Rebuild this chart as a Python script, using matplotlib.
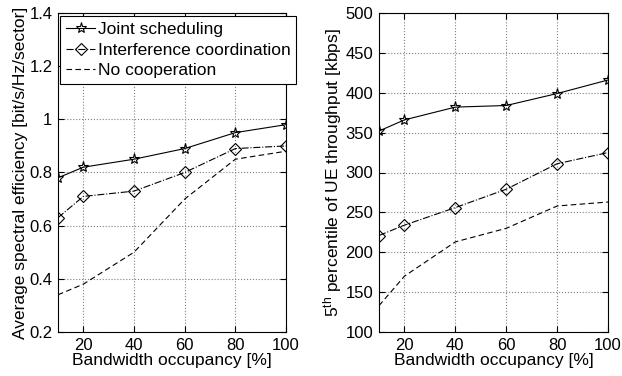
import matplotlib.pyplot as plt

plt.rcParams['font.family'] = ['Liberation Sans', 'DejaVu Sans']
plt.rcParams['mathtext.fontset'] = 'custom'
plt.rcParams['mathtext.rm'] = 'Liberation Sans'
plt.rcParams['mathtext.it'] = 'Liberation Sans'

occupancy = [10, 20, 40, 60, 80, 100]

# spectral efficiency [bit/s/Hz/sector]
se_joint = [0.78, 0.82, 0.85, 0.89, 0.95, 0.98]
se_coord = [0.63, 0.71, 0.73, 0.80, 0.89, 0.90]
se_none = [0.34, 0.38, 0.50, 0.70, 0.85, 0.88]

# 5th percentile UE throughput [kbps]
tp_joint = [352, 366, 382, 384, 399, 416]
tp_coord = [221, 234, 256, 279, 311, 325]
tp_none = [133, 170, 213, 230, 258, 263]

labels = ['Joint scheduling', 'Interference coordination', 'No cooperation']
xticks = [20, 40, 60, 80, 100]

fig = plt.figure(figsize=(6.22, 3.76), dpi=100)
ax1 = fig.add_axes([58 / 622, 44 / 376, 228 / 622, 319 / 376])
ax2 = fig.add_axes([379 / 622, 44 / 376, 229 / 622, 319 / 376])


def draw(ax, joint, coord, none):
    ax.plot(occupancy, joint, 'k-', marker='*', ms=8, mfc='none', mew=0.8, lw=0.8, label=labels[0])
    ax.plot(occupancy, coord, 'k-.', marker='D', ms=6, mfc='none', mew=0.8, lw=0.8, label=labels[1])
    ax.plot(occupancy, none, 'k--', lw=0.8, dashes=(5, 3), label=labels[2])
    ax.set_xlim(10, 100)
    ax.set_xticks(xticks)
    ax.grid(True, ls=':', color='0.5', lw=0.8)
    ax.tick_params(direction='in', labelsize=12, top=True, right=True, length=4, pad=4)
    ax.set_xlabel('Bandwidth occupancy [%]', fontsize=12.5, labelpad=0)
    for s in ax.spines.values():
        s.set_linewidth(0.8)


draw(ax1, se_joint, se_coord, se_none)
ax1.set_ylim(0.2, 1.4)
ax1.set_yticks([0.2, 0.4, 0.6, 0.8, 1.0, 1.2, 1.4])
ax1.set_yticklabels(['0.2', '0.4', '0.6', '0.8', '1', '1.2', '1.4'])
ax1.set_ylabel('Average spectral efficiency [bit/s/Hz/sector]', fontsize=12.5, labelpad=1)
leg = ax1.legend(loc='upper left', bbox_to_anchor=(0.01, 0.99), fontsize=12.5, fancybox=False,
                 edgecolor='k', framealpha=1, handlelength=1.65, handletextpad=0.15,
                 borderpad=0.35, labelspacing=0.3, borderaxespad=0)
leg.get_frame().set_linewidth(0.8)

draw(ax2, tp_joint, tp_coord, tp_none)
ax2.set_ylim(100, 500)
ax2.set_yticks(range(100, 501, 50))
ax2.set_ylabel('5$^{\\rm th}$ percentile of UE throughput [kbps]', fontsize=12.5, labelpad=1)

fig.savefig('out.png', dpi=100)
